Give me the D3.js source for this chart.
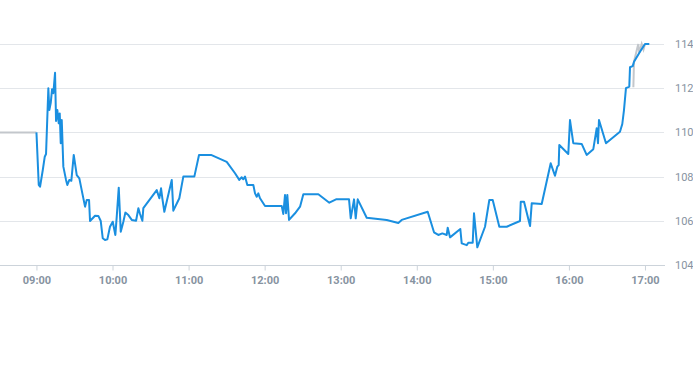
<!DOCTYPE html>
<html>
<head>
<meta charset="utf-8">
<script src="https://cdn.jsdelivr.net/npm/d3@7"></script>
<style>
html,body{margin:0;padding:0;background:#fff;}
svg{display:block;}
</style>
</head>
<body>
<svg id="chart" width="693" height="365"></svg>
<script>
const domainTimes = ["08:31:15", "17:15:00"];
const yTicks = [104, 106, 108, 110, 112, 114];
const xTickLabels = ["09:00","10:00","11:00","12:00","13:00","14:00","15:00","16:00","17:00"];

const blueTimes = ["09:00:00","09:01:49","09:02:50","09:05:00","09:06:33","09:07:34","09:09:23","09:10:10","09:11:17","09:12:18","09:13:20","09:14:40","09:15:28","09:16:29","09:17:35","09:18:22","09:19:10","09:19:57","09:21:13","09:23:20","09:24:22","09:25:57","09:27:31","09:29:25","09:31:47","09:33:50","09:36:12","09:38:20","09:39:40","09:41:29","09:42:16","09:46:13","09:48:49","09:50:43","09:52:17","09:54:06","09:55:55","09:58:00","10:00:11","10:02:14","10:03:20","10:04:55","10:06:30","10:08:33","10:10:08","10:12:30","10:15:11","10:18:35","10:20:24","10:21:43","10:23:32","10:24:19","10:34:53","10:36:56","10:38:17","10:39:18","10:40:53","10:46:43","10:47:58","10:52:42","10:55:51","11:04:32","11:08:14","11:17:42","11:30:05","11:36:38","11:40:00","11:41:55","11:43:10","11:44:31","11:46:20","11:51:04","11:52:25","11:53:45","11:55:00","11:56:21","12:00:18","12:13:28","12:14:44","12:16:04","12:16:52","12:17:53","12:19:14","12:23:58","12:27:55","12:30:31","12:42:21","12:51:01","12:56:18","13:06:33","13:07:54","13:10:30","13:11:50","13:13:25","13:20:30","13:36:17","13:45:26","13:48:07","14:08:37","14:13:35","14:17:00","14:20:09","14:23:37","14:24:24","14:26:13","14:34:20","14:35:26","14:39:23","14:40:39","14:44:07","14:45:08","14:47:44","14:53:49","14:57:13","14:59:54","15:05:06","15:10:55","15:21:25","15:22:00","15:24:36","15:29:20","15:30:40","15:38:32","15:45:38","15:49:00","15:50:50","15:51:56","15:52:25","15:59:30","16:00:51","16:03:27","16:10:04","16:14:00","16:19:14","16:21:55","16:22:56","16:23:43","16:29:14","16:40:16","16:42:06","16:43:26","16:45:00","16:47:37","16:48:11","16:50:18","16:51:20","16:56:04","17:00:00","17:03:24"];
const blueValues = [110.00,107.62,107.54,108.30,108.90,109.02,112.00,111.01,111.34,111.95,111.77,112.70,110.52,111.01,110.41,110.86,109.51,110.56,108.45,107.85,107.62,107.85,107.81,108.98,108.07,107.92,107.24,106.64,106.94,106.94,105.99,106.23,106.22,105.99,105.21,105.13,105.16,105.73,105.96,105.36,106.19,107.50,105.51,105.96,106.37,106.26,106.04,106.00,106.57,106.31,106.00,106.57,107.39,107.02,107.47,107.02,106.41,107.85,106.46,107.02,108.00,108.00,108.98,108.98,108.67,108.15,107.85,107.97,107.88,108.00,107.62,107.62,107.24,107.09,107.24,107.02,106.67,106.67,106.31,107.17,106.34,107.17,106.04,106.34,106.64,107.20,107.20,106.82,106.97,106.97,106.11,106.97,106.11,106.97,106.14,106.04,105.90,106.04,106.41,105.48,105.36,105.43,105.36,105.69,105.25,105.63,104.98,104.90,105.01,105.01,106.34,104.80,105.73,106.94,106.94,105.73,105.73,105.99,106.86,106.86,105.76,106.79,106.76,108.60,108.04,108.45,108.52,109.43,109.02,110.56,109.51,109.48,108.98,109.24,110.19,109.51,110.56,109.51,110.03,110.38,111.01,112.00,112.07,112.95,113.00,113.20,113.65,114.00,114.00];

const grayStartTimes = ["08:31:15","09:00:00"];
const grayStartValues = [110.00,110.00];
const grayEndTimes = ["16:50:50","16:51:20","16:54:43","16:55:30","16:57:25","16:58:50","17:00:00"];
const grayEndValues = [112.04,113.20,114.00,113.60,114.00,113.75,114.00];

const parse = d3.timeParse("%H:%M:%S");
const toPts = (ts, vs) => ts.map((t,i)=>({t:parse(t), v:vs[i]}));

const svg = d3.select("#chart");
const plotLeft = 0, plotRight = 664, plotTop = 44, plotBottom = 265;

const x = d3.scaleTime().domain(domainTimes.map(parse)).range([plotLeft, plotRight]);
const y = d3.scaleLinear().domain([104,114]).range([plotBottom, plotTop]);

// gridlines
svg.append("g").selectAll("line").data(yTicks.filter(v=>v!==104)).join("line")
  .attr("x1", plotLeft).attr("x2", plotRight)
  .attr("y1", d=>Math.round(y(d))+0.5).attr("y2", d=>Math.round(y(d))+0.5)
  .attr("stroke", "#e3e6ea").attr("stroke-width", 1);

// y labels on right
svg.append("g").selectAll("text").data(yTicks).join("text")
  .attr("x", 675).attr("y", d=>y(d)+4)
  .attr("font-family", "Roboto, 'Open Sans', sans-serif")
  .attr("font-size", 11).attr("fill", "#8793a1")
  .text(d=>d);

// x axis
const xTickDates = xTickLabels.map(s=>parse(s+":00"));
const xAxis = d3.axisBottom(x).tickValues(xTickDates).tickSize(5).tickPadding(6)
  .tickFormat(d3.timeFormat("%H:%M"));
const gx = svg.append("g").attr("transform", `translate(0,${Math.round(plotBottom)+0.5})`).call(xAxis);
gx.select(".domain").attr("stroke", "#ccd3da").attr("d", `M${plotLeft},0H${plotRight+1}`);
gx.selectAll(".tick line").attr("stroke", "#ccd3da");
gx.selectAll(".tick text").attr("fill", "#8793a1")
  .attr("font-family", "Roboto, 'Open Sans', sans-serif")
  .attr("font-size", 11).attr("font-weight", "bold");

const line = d3.line().x(d=>x(d.t)).y(d=>y(d.v));

svg.append("path").datum(toPts(grayStartTimes, grayStartValues))
  .attr("d", line).attr("fill","none").attr("stroke","#c3c7cc").attr("stroke-width",2);
svg.append("path").datum(toPts(grayEndTimes, grayEndValues))
  .attr("d", line).attr("fill","none").attr("stroke","#c3c7cc").attr("stroke-width",2);
svg.append("path").datum(toPts(blueTimes, blueValues))
  .attr("d", line).attr("fill","none").attr("stroke","#1a8fe0").attr("stroke-width",2)
  .attr("stroke-linejoin","round");
</script>
</body>
</html>
